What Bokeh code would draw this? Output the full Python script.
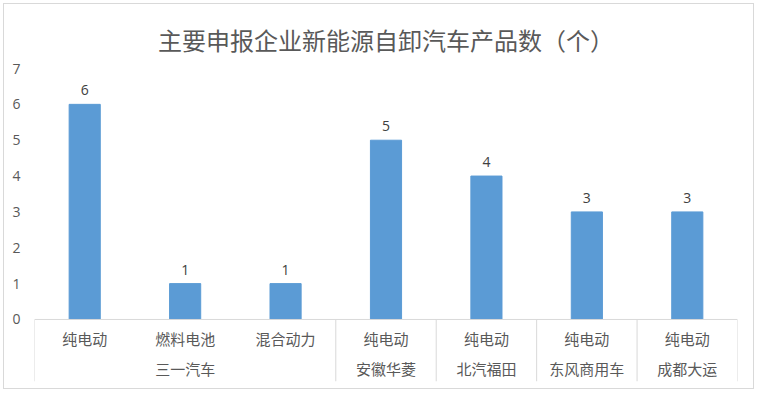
from bokeh.plotting import figure
from bokeh.models import ColumnDataSource, FixedTicker, Range1d
from bokeh.core.properties import value
from bokeh.embed import file_html
from bokeh.resources import INLINE

title_text = "主要申报企业新能源自卸汽车产品数（个）"
companies = ["三一汽车", "安徽华菱", "北汽福田", "东风商用车", "成都大运"]
energy_types = [["纯电动", "燃料电池", "混合动力"], ["纯电动"], ["纯电动"], ["纯电动"], ["纯电动"]]
counts = [[6, 1, 1], [5], [4], [3], [3]]
y_ticks = [0, 1, 2, 3, 4, 5, 6, 7]

# flatten
xs, vals, subs = [], [], []
group_x, bounds = [], [0]
i = 0
for comp, tlist, clist in zip(companies, energy_types, counts):
    start = i
    for t, c in zip(tlist, clist):
        xs.append(i + 0.5)
        vals.append(c)
        subs.append(t)
        i += 1
    group_x.append((start + i) / 2)
    bounds.append(i)
n = i

FONT = "Noto Sans CJK SC"
GRAY = "#595959"
LINE = "#d9d9d9"

y_top = max(y_ticks)
y_bottom = -1.73

p = figure(width=751, height=386, output_backend="svg", toolbar_location=None,
           x_range=Range1d(0, n), y_range=Range1d(y_bottom, y_top),
           min_border_left=30, min_border_right=18, min_border_top=64, min_border_bottom=9)
p.styles = {"border": "1px solid #d9d9d9", "margin-left": "3px", "margin-top": "3px"}
p.outline_line_color = None
p.xgrid.visible = False
p.ygrid.visible = False
p.xaxis.visible = False
p.background_fill_color = "white"
p.border_fill_color = "white"

p.title.text = title_text
p.title.align = "center"
p.title.text_font = FONT
p.title.text_font_size = "24px"
p.title.text_font_style = "normal"
p.title.text_color = GRAY
p.title.standoff = 24

ya = p.yaxis[0]
ya.ticker = FixedTicker(ticks=y_ticks)
ya.axis_line_color = None
ya.major_tick_line_color = None
ya.minor_tick_line_color = None
ya.major_label_text_font = "Open Sans"
ya.major_label_text_font_size = "14px"
ya.major_label_text_color = GRAY
ya.major_label_standoff = 8

src = ColumnDataSource(dict(x=xs, v=vals, lab=[str(v) for v in vals], sub=subs, zero=[0] * len(xs)))
p.vbar(x="x", top="v", bottom=0, width=0.31, source=src, fill_color="#5b9bd5", line_color="#5b9bd5")
p.text(x="x", y="v", text="lab", source=src, text_align="center", text_baseline="alphabetic",
       y_offset=-14, text_font=value("Open Sans"), text_font_size="14px", text_color="#404040")

# category table lines
p.segment(x0=[0], y0=[0], x1=[n], y1=[0], line_color=LINE, line_width=1)
p.segment(x0=bounds, y0=[0] * len(bounds), x1=bounds, y1=[y_bottom] * len(bounds), line_color=LINE, line_width=1)

p.text(x="x", y="zero", text="sub", source=src, text_align="center", text_baseline="middle",
       y_offset=19.5, text_font=value(FONT), text_font_size="15px", text_color=GRAY)
gsrc = ColumnDataSource(dict(x=group_x, y=[0] * len(group_x), t=companies))
p.text(x="x", y="y", text="t", source=gsrc, text_align="center", text_baseline="middle",
       y_offset=49.5, text_font=value(FONT), text_font_size="15px", text_color=GRAY)

open("out.html", "w").write(file_html(p, INLINE))
